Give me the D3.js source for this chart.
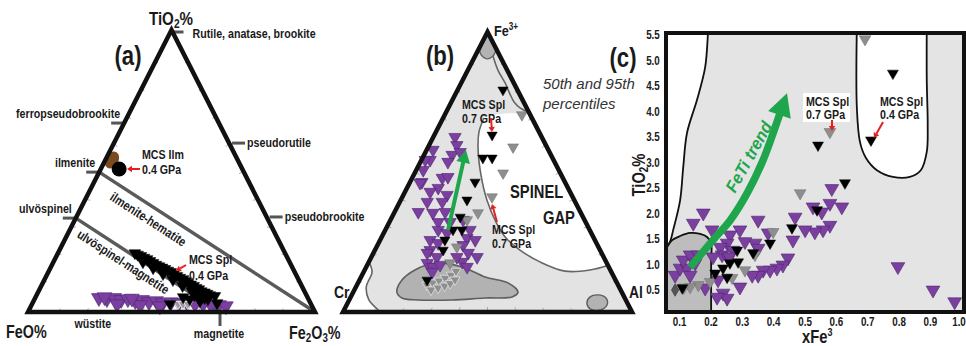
<!DOCTYPE html>
<html><head><meta charset="utf-8">
<script src="https://cdn.jsdelivr.net/npm/d3@7"></script>
<style>
body{margin:0;background:#fff;}
svg{display:block;}
text{font-family:"Liberation Sans",Arial,sans-serif;font-weight:bold;fill:#1a1a1a;}
</style></head><body>
<svg id="chart" width="966" height="346"></svg>
<script>
// ---------------- DATA ----------------
// Panel (a): [TiO2 %, Fe2O3 %]  (FeO = remainder)
const aPurple = [[5.0,22.2],[4.6,25.2],[5.0,27.5],[4.3,30.3],[4.6,32.5],[3.9,35.4],[4.3,37.6],[3.5,40.4],[3.9,42.7],[3.2,45.4],[3.5,48.1],[3.2,51.0],[3.2,53.8],[2.8,56.8],[2.8,59.6],[2.5,62.5],[2.5,65.3],[2.1,67.9],[2.8,29.6],[2.5,37.8],[2.1,44.9],[5.3,24.0],[4.8,33.8]];
const aBlack = [[20.9,26.8],[19.9,29.4],[18.8,32.1],[17.4,34.9],[16.3,37.5],[15.3,40.1],[14.2,42.7],[12.8,45.5],[11.7,48.2],[10.3,50.6],[9.3,53.1],[8.1,55.5],[7.0,58.0],[6.0,60.4],[17.7,31.2],[15.6,35.8],[13.5,40.3],[11.4,44.8],[9.3,49.2],[7.4,53.4],[5.6,56.9],[4.6,54.1],[3.9,58.0],[4.6,60.4],[5.7,62.3],[5.3,51.4],[2.8,48.1],[3.2,64.3],[20.4,28.0],[19.3,30.8],[18.1,33.5],[16.8,36.2],[15.8,38.8],[14.7,41.4],[13.5,44.1],[12.2,46.8],[11.0,49.4],[9.8,51.8],[8.6,54.3],[7.4,56.7],[6.5,59.2],[5.0,59.0],[6.0,55.0]];
const aHatch = [[2.8,50.9],[2.8,52.6],[2.8,54.3]];
const aIlmMCS = [50.7,6.4];
const aIlmNatural = [53.9,2.3];
const aMinerals = ["Rutile, anatase, brookite","ferropseudobrookite","pseudorutile","ilmenite","ulvöspinel","pseudobrookite","magnetite","wüstite"];
const aMineralComp = [[100,0],[67,0],[59.9,40.1],[49.6,0],[33.3,0],[33.7,66.3],[0,66.9],[0,22.6]];
const aMineralSide = ["top","left","right","left","left","right","bottom","bottomNoTick"];
const aJoins = [{name:"ilmenite-hematite",from:[49.6,0],to:[0,100]},{name:"ulvöspinel-magnetite",from:[33.3,0],to:[0,66.9]}];

// Panel (b): [Fe3+ %, Al %]  (Cr = remainder)
const bPurple = [[62.5,7.5],[59.6,9.6],[56.1,9.7],[57.1,12.0],[53.6,9.5],[57.9,2.2],[54.3,3.0],[50.7,2.4],[46.4,4.1],[47.9,10.4],[48.2,12.2],[44.3,10.8],[42.9,8.7],[41.8,15.1],[39.3,14.7],[39.3,9.5],[35.7,8.2],[35.4,13.4],[35.7,17.5],[32.1,21.0],[32.1,16.9],[32.9,25.1],[29.3,18.3],[28.2,21.9],[25.7,17.3],[22.1,19.1],[19.6,22.7],[17.5,20.4],[16.1,23.1],[24.6,20.6],[26.4,29.7],[25.7,32.9],[23.9,29.6],[21.1,32.8],[17.9,32.3],[16.1,34.9],[19.6,29.6],[54.3,1.3],[46.1,3.6],[21.1,18.6],[14.3,23.7],[19.6,36.6],[29.3,29.3],[16.8,25.2]];
const bBlack = [[79.3,15.7],[63.2,20.0],[55.0,20.9],[55.0,24.1],[46.4,22.5],[40.0,22.9],[33.9,23.6],[29.3,23.4],[29.3,26.5],[25.7,22.4],[22.1,23.6],[11.4,23.4]];
const bGray = [[70.4,26.7],[58.9,29.4],[49.6,30.6],[41.1,31.0],[35.4,29.0],[32.9,26.5],[23.2,27.8],[17.5,28.3]];
const bHatch = [[9.6,24.3],[10.4,25.9],[11.1,27.7],[12.1,29.3],[13.2,30.8],[14.6,31.8],[7.9,26.5],[8.6,28.6],[9.3,30.5],[10.2,32.0],[11.5,33.0]];
const bGap = [[71.4,28.3],[71.1,25.0],[70.7,19.0],[69.3,14.1],[64.3,14.9],[57.9,17.8],[48.9,23.3],[40.0,29.8],[32.1,36.9],[26.8,42.7],[22.1,50.2],[17.9,59.2],[14.6,69.5],[15.0,78.0],[16.6,83.4]];
const bCrCorner = [[17.9,0],[14.3,2.9],[8.9,3.6],[4.3,6.8],[0.7,11.8],[0,12.8]];
const bTopBlob = [[94.3,0],[91.8,1.9],[90.4,4.6],[91.4,6.2],[93.9,6.1]];
const bContour = [[91.4,6.2],[86.4,10.4],[81.8,15.2],[77.9,18.8],[75.0,21.7],[72.9,24.8],[71.4,28.3]];
const bLowBlob = [[7.1,15.1],[11.4,14.7],[15.0,17.4],[17.5,23.1],[16.1,33.1],[12.5,42.9],[10.4,51.9],[7.1,57.0],[5.4,55.8],[5.0,46.6],[4.3,35.6],[4.3,23.8],[5.0,17.9]];
const bSmallBlob = [[3.2,82.8],[5.4,82.8],[6.1,85.2],[5.0,88.5],[2.5,90.1],[0.7,88.6],[1.1,85.0]];
const bTrend = [[29.3,21.7],[57.9,13.6]];

// Panel (c): [xFe3, TiO2 %]
const cPurple = [[0.587,2.49],[0.619,2.13],[0.581,2.20],[0.527,2.13],[0.555,2.03],[0.581,1.77],[0.559,1.68],[0.533,1.64],[0.502,1.68],[0.470,1.93],[0.463,1.48],[0.447,1.13],[0.431,0.99],[0.412,0.93],[0.390,0.89],[0.368,0.89],[0.352,0.79],[0.333,0.79],[0.352,1.87],[0.384,1.62],[0.342,1.42],[0.352,1.32],[0.294,1.68],[0.262,1.58],[0.253,1.42],[0.231,1.34],[0.272,1.28],[0.237,1.19],[0.256,1.13],[0.294,0.56],[0.240,0.44],[0.253,0.34],[0.221,0.36],[0.183,0.54],[0.205,1.68],[0.177,2.01],[0.145,1.81],[0.087,0.79],[0.103,0.93],[0.125,0.93],[0.135,0.79],[0.113,1.09],[0.135,1.19],[0.161,1.19],[0.151,1.03],[0.798,0.96],[0.910,0.50],[0.979,0.27],[0.224,0.70],[0.208,1.15],[0.260,1.15],[0.310,1.45]];
const cBlack = [[0.543,3.34],[0.712,3.44],[0.782,4.75],[0.629,2.60],[0.540,2.07],[0.460,1.72],[0.390,1.42],[0.336,1.23],[0.285,1.28],[0.288,1.05],[0.262,1.03],[0.215,0.83],[0.240,0.93],[0.253,0.75],[0.110,0.54]];
const cGray = [[0.693,5.42],[0.581,3.60],[0.486,2.40],[0.400,1.64],[0.342,1.19],[0.310,0.89],[0.269,0.74],[0.199,0.66],[0.161,0.60],[0.135,0.56],[0.115,0.55]];
const cDiamond = [[0.087,0.50]];
const cWhiteLeft = [[0.194,5.7],[0.192,5.54],[0.183,4.87],[0.157,4.23],[0.125,3.58],[0.113,2.91],[0.103,2.26],[0.081,1.68],[0.071,1.45],[0.058,1.32]];
const cDark = [[0.058,1.32],[0.078,1.48],[0.103,1.56],[0.135,1.62],[0.167,1.60],[0.189,1.54],[0.202,1.42],[0.202,1.09],[0.202,0.5],[0.202,0.0]];
const cWhiteRight = [[0.667,5.7],[0.667,4.07],[0.677,3.40],[0.696,3.09],[0.731,2.85],[0.782,2.72],[0.836,2.72],[0.871,2.85],[0.890,3.21],[0.893,3.74],[0.890,4.62],[0.890,5.7]];
const cTrend = [[0.135,0.95],[0.208,1.48],[0.263,1.87],[0.317,2.40],[0.368,3.05],[0.400,3.58],[0.422,3.97]];
const cTrendTip = [0.444,4.36];
const cTickX = [0.1,0.2,0.3,0.4,0.5,0.6,0.7,0.8,0.9,1.0];
const cTickY = [0.5,1.0,1.5,2.0,2.5,3.0,3.5,4.0,4.5,5.0,5.5];

// ---------------- COLOURS ----------------
const PURPLE="#7b3f9f", PURPLE_S="#4d2370", GRAYM="#8e8e8e", GREEN="#1fa64c", RED="#e3211e";
const NARROW = 0.82;

const svg = d3.select("#chart");
const defs = svg.append("defs");
const triPath = s => d3.symbol(d3.symbolTriangle, s)();

function nt(g,x,y,size,content,o={}){
  const sx = o.sx===undefined?NARROW:o.sx;
  const t=g.append("text").attr("x",0).attr("y",0).attr("font-size",size)
    .attr("transform",`translate(${x},${y}) rotate(${o.rot||0}) scale(${sx},1)`)
    .attr("text-anchor",o.anchor||"start");
  if(o.baseline) t.attr("dominant-baseline",o.baseline);
  if(o.italic) t.style("font-style","italic");
  if(o.normal) t.style("font-weight","normal");
  if(o.fill) t.style("fill",o.fill);
  if(o.html) t.html(content); else t.text(content);
  return t;
}
function marks(g, data, P, size, fill, stroke, sw){
  g.selectAll(null).data(data).enter().append("path")
   .attr("d", triPath(size))
   .attr("transform", d => { const p=P(d); return `translate(${p[0]},${p[1]}) rotate(180)`; })
   .attr("fill", fill).attr("stroke", stroke).attr("stroke-width", sw);
}
function redArrow(g,x1,y1,x2,y2){
  const a=Math.atan2(y2-y1,x2-x1), L=5, W=3.2;
  const bx=x2-L*Math.cos(a), by=y2-L*Math.sin(a);
  g.append("line").attr("x1",x1).attr("y1",y1).attr("x2",bx).attr("y2",by).attr("stroke",RED).attr("stroke-width",2);
  g.append("path").attr("d",`M${x2},${y2}L${bx-W*Math.sin(a)},${by+W*Math.cos(a)}L${bx+W*Math.sin(a)},${by-W*Math.cos(a)}Z`).attr("fill",RED);
}
function ternTicks(g,P){
  const V=[[100,0],[0,0],[0,100]], c=P([33.33,33.33]);
  for(let i=0;i<3;i++){
    const A=V[i],B=V[(i+1)%3];
    for(let k=1;k<10;k++){
      const q=[A[0]+(B[0]-A[0])*k/10, A[1]+(B[1]-A[1])*k/10], p=P(q);
      const dx=c[0]-p[0], dy=c[1]-p[1], n=Math.hypot(dx,dy);
      g.append("line").attr("x1",p[0]).attr("y1",p[1]).attr("x2",p[0]+dx/n*5).attr("y2",p[1]+dy/n*5)
       .attr("stroke","#9a9a9a").attr("stroke-width",0.8);
    }
  }
}

// ================= PANEL A =================
const xA = d3.scaleLinear().domain([0,1]).range([28,315]);
const yA = d3.scaleLinear().domain([0,1]).range([312,30]);
const pA = d => [xA(d[1]/100 + d[0]/200), yA(d[0]/100)];
const gA = svg.append("g");
const verts = [[100,0],[0,0],[0,100]];
ternTicks(gA,pA);
aJoins.forEach((j,i)=>{
  const p1=pA(j.from), p2=pA(j.to);
  gA.append("line").attr("x1",p1[0]).attr("y1",p1[1]).attr("x2",p2[0]).attr("y2",p2[1]).attr("stroke","#5a5a5a").attr("stroke-width",3.5);
  const ang=Math.atan2(p2[1]-p1[1],p2[0]-p1[0]);
  const t = i===0?0.26:0.37, off = i===0?13:11;
  const cx=p1[0]+(p2[0]-p1[0])*t - Math.sin(ang)*off, cy=p1[1]+(p2[1]-p1[1])*t + Math.cos(ang)*off;
  nt(gA,cx,cy,13,j.name,{anchor:"middle",baseline:"central",rot:ang*180/Math.PI});
});
aMinerals.forEach((m,i)=>{
  const p=pA(aMineralComp[i]), s=aMineralSide[i];
  const tk=(x1,y1,x2,y2)=>gA.append("line").attr("x1",x1).attr("y1",y1).attr("x2",x2).attr("y2",y2).attr("stroke","#555").attr("stroke-width",3);
  if(s==="left"){ tk(p[0]-13,p[1],p[0]+1,p[1]); nt(gA,p[0]-4,p[1]-5,13,m,{anchor:"end"}); }
  else if(s==="right"){ tk(p[0]+3,p[1],p[0]+16,p[1]); nt(gA,p[0]+18,p[1]+4,13,m); }
  else if(s==="top"){ tk(p[0]+2,p[1]+2,p[0]+12,p[1]+2); nt(gA,p[0]+21,p[1]+8,13,m); }
  else if(s==="bottom"){ tk(p[0],p[1]+1,p[0],p[1]+14); nt(gA,p[0]-1,p[1]+26,13,m,{anchor:"middle"}); }
  else { nt(gA,p[0],p[1]+16,13,m,{anchor:"middle"}); }
});
marks(gA,aPurple,pA,95,PURPLE,PURPLE_S,0.6);
marks(gA,aHatch,pA,40,"#9a9a9a","#fff",0.8);
marks(gA,aBlack,pA,58,"#000","#000",0.5);
{ const pb=pA(aIlmNatural); gA.append("ellipse").attr("cx",pb[0]).attr("cy",pb[1]).attr("rx",6.5).attr("ry",9).attr("fill","#7b4a1f").attr("transform",`rotate(30,${pb[0]},${pb[1]})`);
  const pc=pA(aIlmMCS); gA.append("circle").attr("cx",pc[0]).attr("cy",pc[1]).attr("r",7.5).attr("fill","#000"); }
gA.append("path").attr("d","M"+verts.map(pA).join("L")+"Z").attr("fill","none").attr("stroke","#111").attr("stroke-width",4.5).attr("stroke-linejoin","miter");
nt(gA,171,25,18.5,'TiO<tspan font-size="12.5" dy="3">2</tspan><tspan dy="-3">%</tspan>',{anchor:"middle",html:true});
nt(gA,128,65,27,"(a)",{anchor:"middle"});
nt(gA,6,338,17.5,"FeO%");
nt(gA,289,339,17.5,'Fe<tspan font-size="12" dy="3">2</tspan><tspan dy="-3">O</tspan><tspan font-size="12" dy="3">3</tspan><tspan dy="-3">%</tspan>',{html:true});
nt(gA,142,159,13,"MCS Ilm");
nt(gA,142,174,13,"0.4 GPa");
redArrow(gA,140,169,127,169);
nt(gA,189,264,13,"MCS Spl");
nt(gA,189,280,13,"0.4 GPa");
redArrow(gA,186,265,176,271);

// ================= PANEL B =================
const xB = d3.scaleLinear().domain([0,1]).range([343,632]);
const yB = d3.scaleLinear().domain([0,1]).range([312,32]);
const pB = d => [xB(d[1]/100 + d[0]/200), yB(d[0]/100)];
const gB = svg.append("g");
const triB = "M"+verts.map(pB).join("L")+"Z";
defs.append("clipPath").attr("id","clipB").append("path").attr("d",triB);
const gBc = gB.append("g").attr("clip-path","url(#clipB)");
gBc.append("path").attr("d",triB).attr("fill","#e3e3e3");
const smoothB = d3.line().x(d=>pB(d)[0]).y(d=>pB(d)[1]).curve(d3.curveCatmullRom);
gBc.append("path").attr("d",smoothB(bGap)+"Z").attr("fill","#fff");
gBc.append("path").attr("d",smoothB(bGap.slice(3))).attr("fill","none").attr("stroke","#666").attr("stroke-width",1.6);
gBc.append("path").attr("d",smoothB(bCrCorner)+"L"+pB([0,0])+"Z").attr("fill","#fff");
gBc.append("path").attr("d",smoothB(bCrCorner)).attr("fill","none").attr("stroke","#666").attr("stroke-width",1.6);
gBc.append("path").attr("d",smoothB(bTopBlob)+"L"+pB([100,0])+"Z").attr("fill","#b3b3b3");
gBc.append("path").attr("d",smoothB(bTopBlob)).attr("fill","none").attr("stroke","#666").attr("stroke-width",1.4);
gBc.append("path").attr("d",smoothB(bContour)).attr("fill","none").attr("stroke","#666").attr("stroke-width",1.6);
const closedB = d3.line().x(d=>pB(d)[0]).y(d=>pB(d)[1]).curve(d3.curveCatmullRomClosed);
gBc.append("path").attr("d",closedB(bLowBlob)).attr("fill","#b2b2b2").attr("stroke","#5f5f5f").attr("stroke-width",1.6);
gBc.append("path").attr("d",closedB(bSmallBlob)).attr("fill","#b2b2b2").attr("stroke","#5f5f5f").attr("stroke-width",1.4);
ternTicks(gB,pB);
marks(gB,bPurple,pB,66,PURPLE,PURPLE_S,0.6);
marks(gB,bHatch,pB,42,"#8f8f8f","#f4f4f4",0.6);
marks(gB,bGray,pB,52,GRAYM,"#6f6f6f",0.5);
marks(gB,bBlack,pB,45,"#000","#000",0.5);
{ const p1=pB(bTrend[0]), p2=pB(bTrend[1]); const a=Math.atan2(p2[1]-p1[1],p2[0]-p1[0]);
  const L=13,W=7, bx=p2[0]-L*Math.cos(a), by=p2[1]-L*Math.sin(a);
  gB.append("line").attr("x1",p1[0]).attr("y1",p1[1]).attr("x2",bx+2*Math.cos(a)).attr("y2",by+2*Math.sin(a)).attr("stroke",GREEN).attr("stroke-width",4);
  gB.append("path").attr("d",`M${p2[0]},${p2[1]}L${bx-W*Math.sin(a)},${by+W*Math.cos(a)}L${bx+W*Math.sin(a)},${by-W*Math.cos(a)}Z`).attr("fill",GREEN);
}
gB.append("path").attr("d",triB).attr("fill","none").attr("stroke","#111").attr("stroke-width",4.5);
nt(gB,440,65,27,"(b)",{anchor:"middle"});
nt(gB,494,36,15.5,'Fe<tspan font-size="10" dy="-6">3+</tspan>',{html:true});
nt(gB,334,298,17,"Cr");
nt(gB,629,298,17,"Al");
nt(gB,543,89,15,"50th and 95th",{italic:true,normal:true,fill:"#333",sx:1});
nt(gB,543,109,15,"percentiles",{italic:true,normal:true,fill:"#333",sx:1});
nt(gB,462,109,13,"MCS Spl");
nt(gB,462,123,13,"0.7 GPa");
redArrow(gB,491,118,492,132);
nt(gB,510,198,18,"SPINEL");
nt(gB,543,224,18,"GAP");
nt(gB,492,234,13,"MCS Spl");
nt(gB,492,248,13,"0.7 GPa");
redArrow(gB,497,222,492,204);

// ================= PANEL C =================
const xC = d3.scaleLinear().domain([0.058,1.012]).range([666,965]);
const yC = d3.scaleLinear().domain([0.07,5.54]).range([312,33]);
const pC = d => [xC(d[0]), yC(d[1])];
const gC = svg.append("g");
defs.append("clipPath").attr("id","clipC").append("rect").attr("x",666).attr("y",33).attr("width",299).attr("height",279);
const gCc = gC.append("g").attr("clip-path","url(#clipC)");
gCc.append("rect").attr("x",666).attr("y",33).attr("width",299).attr("height",279).attr("fill","#e3e4e3");
const smoothC = d3.line().x(d=>xC(d[0])).y(d=>yC(d[1])).curve(d3.curveCatmullRom);
gCc.append("path").attr("d",smoothC(cWhiteLeft)+`L${xC(0)},${yC(1.32)}L${xC(0)},${yC(5.7)}Z`).attr("fill","#fff");
gCc.append("path").attr("d",smoothC(cDark)+`L${xC(0)},${yC(0)}L${xC(0)},${yC(1.32)}Z`).attr("fill","#bcbdbc");
gCc.append("path").attr("d",smoothC(cWhiteRight)+"Z").attr("fill","#fff");
[cWhiteLeft,cDark,cWhiteRight].forEach(r=>gCc.append("path").attr("d",smoothC(r)).attr("fill","none").attr("stroke","#111").attr("stroke-width",1.8));
marks(gCc,cPurple,pC,82,PURPLE,PURPLE_S,0.6);
marks(gCc,cGray,pC,60,GRAYM,"#6f6f6f",0.5);
marks(gCc,cBlack,pC,52,"#000","#000",0.5);
gCc.selectAll(null).data(cDiamond).enter().append("path").attr("d",d3.symbol(d3.symbolDiamond,45)())
  .attr("transform",d=>`translate(${pC(d)[0]},${pC(d)[1]})`).attr("fill","#555").attr("stroke","#333").attr("stroke-width",0.6);
{ gCc.append("path").attr("d",smoothC(cTrend)).attr("fill","none").attr("stroke",GREEN).attr("stroke-width",7.5);
  const tip=pC(cTrendTip), last=pC(cTrend[cTrend.length-1]);
  const a=Math.atan2(tip[1]-last[1],tip[0]-last[0]), L=23, W=12;
  const bx=tip[0]-L*Math.cos(a), by=tip[1]-L*Math.sin(a);
  gCc.append("path").attr("d",`M${tip[0]},${tip[1]}L${bx-W*Math.sin(a)},${by+W*Math.cos(a)}L${bx+W*Math.sin(a)},${by-W*Math.cos(a)}Z`).attr("fill",GREEN);
}
nt(gCc,749,157,17,"FeTi trend",{anchor:"middle",baseline:"central",rot:-61,italic:true,fill:GREEN,sx:0.95});
gCc.append("rect").attr("x",803).attr("y",93).attr("width",47).attr("height",29).attr("fill","#fff");
nt(gCc,806,106,13,"MCS Spl");
nt(gCc,806,119,13,"0.7 GPa");
redArrow(gCc,832,120,832,131);
nt(gCc,880,106,13,"MCS Spl");
nt(gCc,880,119,13,"0.4 GPa");
redArrow(gCc,883,122,874,138);
gC.append("rect").attr("x",666).attr("y",33).attr("width",298).attr("height",279).attr("fill","none").attr("stroke","#111").attr("stroke-width",4);
const ax = gC.append("g").attr("transform","translate(0,313)").call(d3.axisBottom(xC).tickValues(cTickX).tickSize(0).tickPadding(4).tickFormat(d3.format(".1f")));
const ay = gC.append("g").attr("transform","translate(665,0)").call(d3.axisLeft(yC).tickValues(cTickY).tickSize(0).tickPadding(5).tickFormat(d3.format(".1f")));
[ax,ay].forEach(g=>{ g.select(".domain").remove(); g.selectAll("text").attr("font-size",12).style("font-family","'Liberation Sans',Arial,sans-serif").style("font-weight","bold").attr("fill","#333"); });
ax.selectAll("text").attr("transform",`scale(${NARROW},1)`);
ax.selectAll("text").filter(d=>d===1.0).attr("text-anchor","end").attr("x",5);
ay.selectAll("text").attr("transform",`translate(-6,0) scale(${NARROW},1) translate(6,0)`);
nt(gC,802,343,18,'xFe<tspan font-size="11" dy="-7">3</tspan>',{html:true});
nt(gC,645,175,18,'TiO<tspan font-size="12" dy="3">2</tspan><tspan dy="-3">%</tspan>',{anchor:"middle",rot:-90,html:true});
nt(gC,623,67,27,"(c)",{anchor:"middle"});
</script></body></html>
